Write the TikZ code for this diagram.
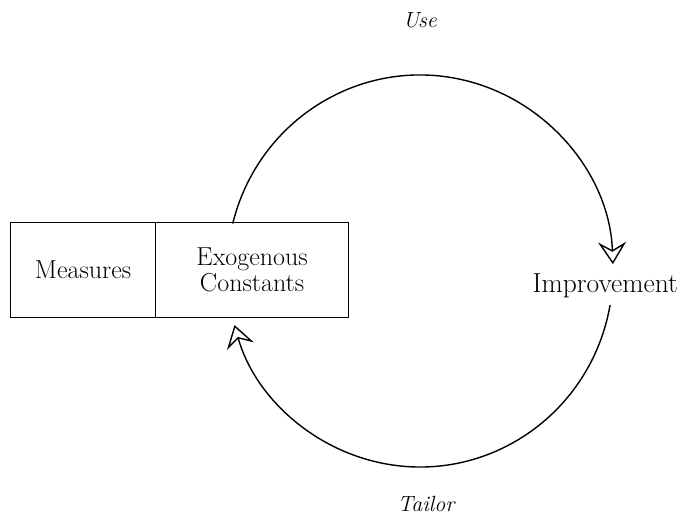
\documentclass[tikz,border=0pt]{standalone}
\usetikzlibrary{arrows.meta,calc}
\begin{document}
\begin{tikzpicture}[x=1pt,y=1pt,
  box/.style={draw,line width=1.2pt,minimum height=95pt,inner sep=0pt,align=center,
    font=\fontsize{26}{26}\selectfont},
  lbl/.style={font=\fontsize{27.5}{30}\selectfont,inner sep=0pt},
  phase/.style={font=\fontsize{22}{24}\selectfont\itshape,inner sep=0pt},
  loop/.style={line width=1.4pt,
    -{Stealth[open,length=22pt,width=28pt,inset=8pt,line width=1.4pt,fill=white]}}]
\useasboundingbox (0,0) rectangle (681,516);
% the two-part box
\node[box,minimum width=145pt,anchor=south west] (meas) at (10,198) {Measures};
\node[box,minimum width=193pt,anchor=south west] (exo) at (155,198) {Exogenous\\Constants};
% goal on the right
\node[lbl,anchor=base east] (imp) at (678,223) {Improvement};
% phase labels
\node[phase] (use) at (420,496) {Use};
\node[phase] (tailor) at (426,12) {Tailor};
% the improvement cycle
\coordinate (ctr) at (420,245);
\coordinate (useStart) at ($(ctr)+(166:193 and 196)$);
\coordinate (tailorStart) at ($(ctr)+(-10:193 and 196)$);
\draw[loop] (useStart) arc[start angle=166,end angle=2,x radius=193,y radius=196];
\draw[loop] (tailorStart) arc[start angle=-10,end angle=-164,x radius=193,y radius=196];
\end{tikzpicture}
\end{document}
